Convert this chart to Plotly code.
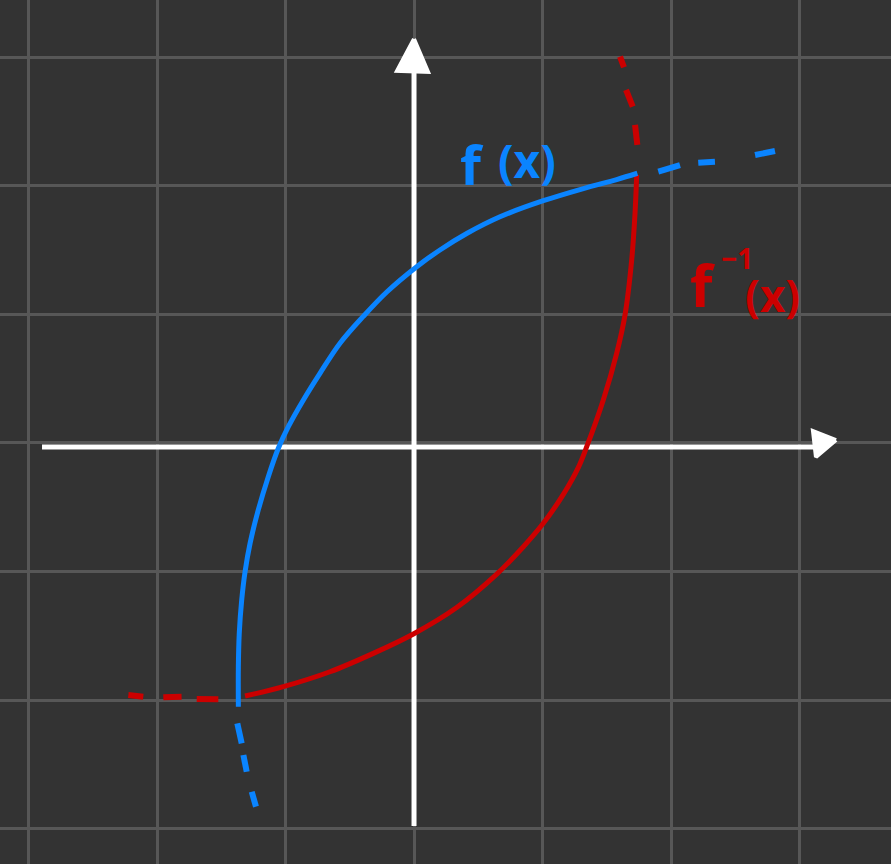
import plotly.graph_objects as go

# ---- data (grid units, 1 cell = 1 unit) ----
grid_ticks = [-3, -2, -1, 0, 1, 2, 3]

f_x = [-1.367, -1.367, -1.360, -1.341, -1.315, -1.276, -1.212, -1.134, -1.056, -0.978,
       -0.861, -0.732, -0.576, -0.395, -0.212, 0.021, 0.202, 0.410, 0.669, 1.006,
       1.318, 1.577, 1.738]
f_y = [-2.052, -1.741, -1.481, -1.222, -1.002, -0.781, -0.521, -0.262, -0.041, 0.127,
       0.335, 0.542, 0.776, 0.985, 1.175, 1.372, 1.502, 1.630, 1.760, 1.885,
       1.980, 2.050, 2.099]

finv_x = [-1.315, -1.017, -0.654, -0.317, -0.005, 0.332, 0.644, 0.851, 1.006, 1.162,
          1.279, 1.344, 1.473, 1.577, 1.642, 1.694, 1.720, 1.733]
finv_y = [-1.969, -1.896, -1.780, -1.637, -1.486, -1.280, -1.020, -0.807, -0.625, -0.400,
          -0.190, -0.029, 0.335, 0.698, 0.996, 1.424, 1.788, 2.086]

# dashed continuations (None separates dashes)
f_dash_x = [-1.375, -1.341, None, -1.328, -1.302, None, -1.263, -1.230, None,
            1.901, 2.070, None, 2.212, 2.342, None, 2.654, 2.809]
f_dash_y = [-2.181, -2.337, None, -2.428, -2.558, None, -2.714, -2.830, None,
            2.111, 2.163, None, 2.181, 2.189, None, 2.241, 2.272]

finv_dash_x = [-2.223, -2.107, None, -1.951, -1.809, None, -1.691, -1.523, None,
               1.603, 1.634, None, 1.650, 1.702, None, 1.720, 1.738]
finv_dash_y = [-1.961, -1.974, None, -1.979, -1.974, None, -1.992, -1.995, None,
               3.006, 2.924, None, 2.747, 2.617, None, 2.475, 2.319]

# hand-drawn coordinate axes
yaxis_line_x = [0.0, 0.0]
yaxis_line_y = [-2.981, 2.88]
yarrow_x = [0.0, -0.132, 0.109, 0.0]
yarrow_y = [3.144, 2.895, 2.887, 3.144]
xaxis_line_x = [-2.895, 3.12]
xaxis_line_y = [-0.031, -0.031]
xarrow_x = [3.284, 3.105, 3.128, 3.284]
xarrow_y = [0.023, 0.093, -0.109, 0.023]

BLUE = "#0a84ff"
RED = "#cc0000"
WHITE = "#ffffff"
BG = "#333333"
GRID = "#575757"

fig = go.Figure()

# axes
fig.add_trace(go.Scatter(x=yaxis_line_x, y=yaxis_line_y, mode="lines",
                         line=dict(color=WHITE, width=5), hoverinfo="skip"))
fig.add_trace(go.Scatter(x=xaxis_line_x, y=xaxis_line_y, mode="lines",
                         line=dict(color=WHITE, width=5), hoverinfo="skip"))
fig.add_trace(go.Scatter(x=yarrow_x, y=yarrow_y, mode="lines", fill="toself",
                         fillcolor=WHITE, line=dict(color=WHITE, width=4), hoverinfo="skip"))
fig.add_trace(go.Scatter(x=xarrow_x, y=xarrow_y, mode="lines", fill="toself",
                         fillcolor=WHITE, line=dict(color=WHITE, width=4), hoverinfo="skip"))

# curves
fig.add_trace(go.Scatter(x=finv_dash_x, y=finv_dash_y, mode="lines",
                         line=dict(color=RED, width=6), hoverinfo="skip"))
fig.add_trace(go.Scatter(x=f_dash_x, y=f_dash_y, mode="lines",
                         line=dict(color=BLUE, width=6), hoverinfo="skip"))
fig.add_trace(go.Scatter(x=finv_x, y=finv_y, mode="lines",
                         line=dict(color=RED, width=5, shape="spline", smoothing=1),
                         name="f⁻¹(x)"))
fig.add_trace(go.Scatter(x=f_x, y=f_y, mode="lines",
                         line=dict(color=BLUE, width=5, shape="spline", smoothing=1),
                         name="f(x)"))

# labels
labels = [
    ("f", 0.45, 2.17, BLUE, 54),
    ("(x)", 0.88, 2.20, BLUE, 46),
    ("f", 2.25, 1.23, RED, 58),
    ("−1", 2.51, 1.44, RED, 28),
    ("(x)", 2.79, 1.15, RED, 44),
]
for txt, lx, ly, col, sz in labels:
    fig.add_annotation(x=lx, y=ly, text=txt, showarrow=False,
                       font=dict(color=col, size=sz, family="Noto Sans", weight="bold"),
                       xanchor="center", yanchor="middle")

fig.update_layout(
    width=891, height=864,
    margin=dict(l=0, r=0, t=0, b=0),
    paper_bgcolor=BG, plot_bgcolor=BG,
    showlegend=False,
    xaxis=dict(range=[-3.222, 3.712], tickvals=grid_ticks, showticklabels=False,
               showgrid=True, gridcolor=GRID, gridwidth=3, zeroline=False,
               showline=False, fixedrange=True),
    yaxis=dict(range=[-3.276, 3.447], tickvals=grid_ticks, showticklabels=False,
               showgrid=True, gridcolor=GRID, gridwidth=3, zeroline=False,
               showline=False, fixedrange=True),
)

fig.write_html("out.html", config={"displayModeBar": False},
               post_script="document.body.style.margin='0';document.body.style.background='#333333';")
